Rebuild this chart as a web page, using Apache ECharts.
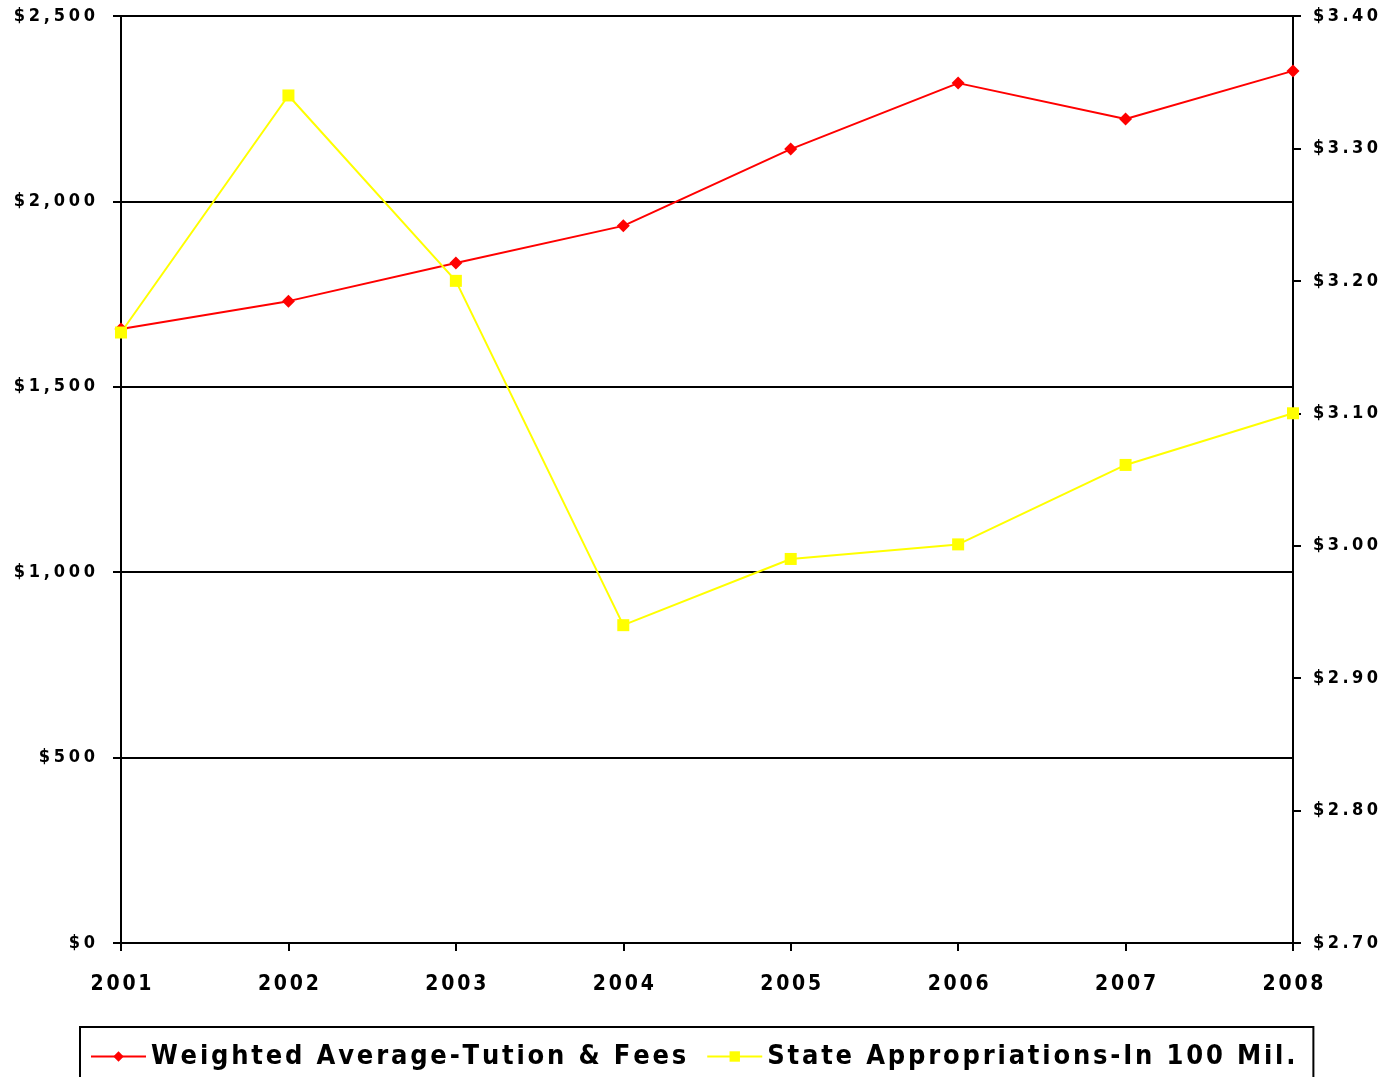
<!DOCTYPE html>
<html>
<head>
<meta charset="utf-8">
<script src="https://cdn.jsdelivr.net/npm/echarts@6/dist/echarts.min.js"></script>
<style>
  html, body { margin: 0; padding: 0; background: #fff; }
</style>
</head>
<body>
<div id="main" style="width: 1386px;height:1077px;"></div>
<script>
// data
var years = ['2001', '2002', '2003', '2004', '2005', '2006', '2007', '2008'];
var tuition = [1656, 1731, 1834, 1934, 2141, 2319, 2222, 2352];
var appropriations = [3.161, 3.340, 3.200, 2.940, 2.990, 3.001, 3.061, 3.100];
var seriesNames = ['Weighted Average-Tution & Fees', 'State Appropriations-In 100 Mil.'];

var FONT = '"Liberation Sans Narrow", "DejaVu Sans", sans-serif';
// font-stretch goes in through the style slot of the font shorthand
var STRETCH = 'condensed';

// letter spacing: a small space (its own font size) between every character
function spaced(s) {
  return s.split('').map(function (c) {
    return c === ' ' ? '{w| }' : '{t|' + c + '}';
  }).join('{g| }');
}

function richFor(size, gapSize) {
  var base = { fontFamily: FONT, fontStyle: STRETCH, fontWeight: 'bold', color: '#000' };
  return {
    t: Object.assign({}, base, { fontSize: size }),
    w: Object.assign({}, base, { fontSize: size }),
    g: Object.assign({}, base, { fontSize: gapSize })
  };
}

var myChart = echarts.init(document.getElementById('main'));

var option = {
  animation: false,
  backgroundColor: '#fff',
  grid: {
    left: 121,
    right: 93,
    top: 16,
    bottom: 134,
    outerBoundsMode: 'none'
  },
  legend: {
    left: 80,
    top: 1027,
    orient: 'horizontal',
    borderColor: '#000',
    borderWidth: 2,
    padding: [16, 18, 20, 10],
    itemGap: 20,
    itemWidth: 55,
    itemHeight: 13,
    textStyle: {
      fontFamily: FONT,
      fontStyle: STRETCH,
      fontWeight: 'bold',
      fontSize: 27,
      color: '#000',
      rich: richFor(27, 9)
    },
    formatter: function (name) {
      return spaced(name);
    },
    data: seriesNames
  },
  xAxis: {
    type: 'category',
    data: years,
    boundaryGap: false,
    axisLine: { lineStyle: { color: '#000', width: 2 } },
    axisTick: { show: true, interval: 0, length: 8, lineStyle: { color: '#000', width: 2 } },
    axisLabel: {
      interval: 0,
      showMinLabel: true,
      showMaxLabel: true,
      hideOverlap: false,
      margin: 31,
      fontFamily: FONT,
      fontStyle: STRETCH,
      fontWeight: 'bold',
      fontSize: 21,
      color: '#000',
      rich: richFor(21, 9),
      formatter: function (v) { return spaced(v); }
    },
    splitLine: { show: false }
  },
  yAxis: [
    {
      type: 'value',
      min: 0,
      max: 2500,
      interval: 500,
      position: 'left',
      axisLine: { show: true, lineStyle: { color: '#000', width: 2 } },
      axisTick: { show: true, length: 8, lineStyle: { color: '#000', width: 2 } },
      axisLabel: {
        margin: 26,
        fontFamily: FONT,
        fontStyle: STRETCH,
        fontWeight: 'bold',
        fontSize: 18,
        color: '#000',
        rich: richFor(18, 12),
        formatter: function (v) {
          return spaced('$' + v.toLocaleString('en-US'));
        }
      },
      splitLine: { show: true, lineStyle: { color: '#000', width: 2 } }
    },
    {
      type: 'value',
      min: 2.7,
      max: 3.4,
      interval: 0.1,
      position: 'right',
      axisLine: { show: true, lineStyle: { color: '#000', width: 2 } },
      axisTick: { show: true, length: 8, lineStyle: { color: '#000', width: 2 } },
      axisLabel: {
        margin: 20,
        fontFamily: FONT,
        fontStyle: STRETCH,
        fontWeight: 'bold',
        fontSize: 18,
        color: '#000',
        rich: richFor(18, 11),
        formatter: function (v) {
          return spaced('$' + v.toFixed(2));
        }
      },
      splitLine: { show: false }
    }
  ],
  series: [
    {
      name: seriesNames[0],
      type: 'line',
      data: tuition,
      yAxisIndex: 0,
      symbol: 'diamond',
      symbolSize: 13,
      itemStyle: { color: '#ff0000' },
      lineStyle: { color: '#ff0000', width: 2 }
    },
    {
      name: seriesNames[1],
      type: 'line',
      data: appropriations,
      yAxisIndex: 1,
      symbol: 'rect',
      symbolSize: 12,
      itemStyle: { color: '#ffff00' },
      lineStyle: { color: '#ffff00', width: 2 }
    }
  ]
};

myChart.setOption(option);
</script>
</body>
</html>
